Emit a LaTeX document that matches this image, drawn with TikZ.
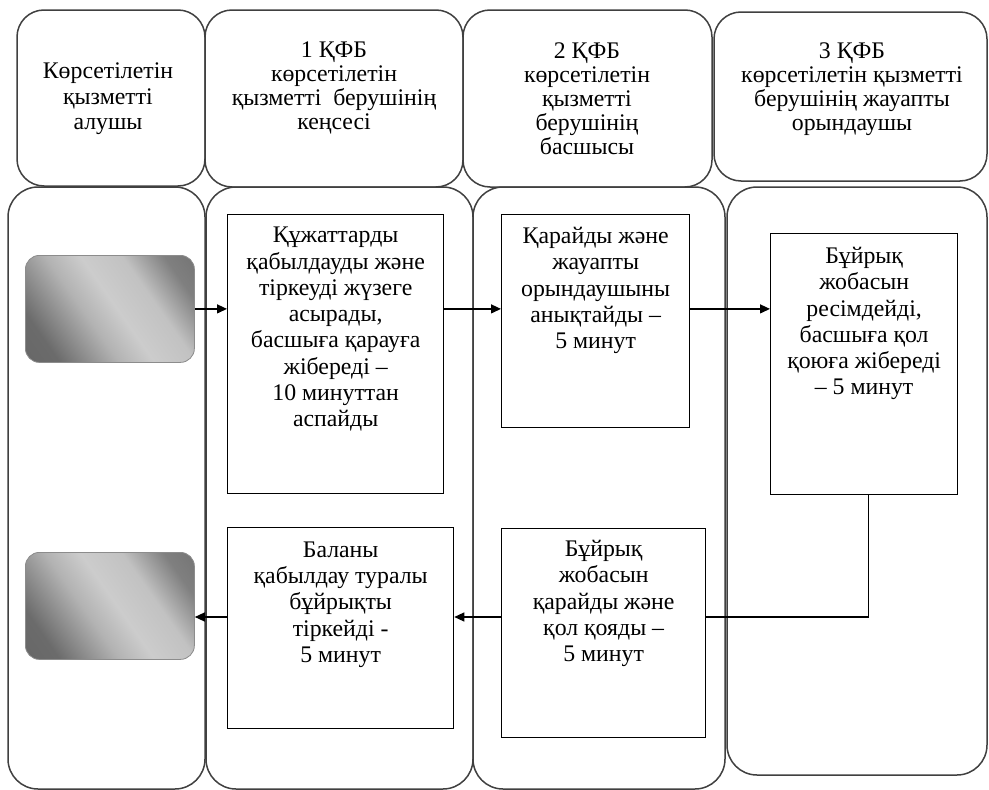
\documentclass[tikz,border=0pt]{standalone}
\usepackage{fontspec}
\setmainfont{Liberation Serif}
\usetikzlibrary{arrows.meta}
% grey sheen for the recipient boxes: dark ends, broad light band in the middle
\pgfdeclarehorizontalshading{actorsheen}{100bp}{color(0bp)=(black!62); color(25bp)=(black!58); color(42bp)=(black!30); color(52bp)=(black!20); color(64bp)=(black!24); color(76bp)=(black!50); color(100bp)=(black!62)}
\begin{document}
\begin{tikzpicture}[x=1pt,y=-1pt,
  lane/.style={draw=black!75, line width=1.5pt, rounded corners=30pt},
  head/.style={draw=black!75, line width=1.5pt, rounded corners=27pt},
  stepbox/.style={draw=black, line width=1.3pt, inner sep=0pt, anchor=north west},
  actor/.style={draw=black!45, line width=0.8pt, rounded corners=14pt, inner sep=0pt,
    anchor=north west, shading=actorsheen, shading angle=35},
  txt/.style={align=center, inner sep=0pt, anchor=north, font=\fontsize{23.8}{26.3}\selectfont},
  htxt/.style={align=center, inner sep=0pt, anchor=north, font=\fontsize{23.8}{24}\selectfont},
  arr/.style={line width=1.3pt, -{Triangle[length=10pt,width=9pt]}},
  link/.style={line width=1.3pt}]
\useasboundingbox (0,0) rectangle (989,790);
\fill[white] (0,0) rectangle (989,790);

% column headers
\draw[head] (17,10) rectangle (205,186);
\draw[head] (205,10) rectangle (463,187);
\draw[head] (463,10) rectangle (712,187);
\draw[head] (714,12) rectangle (987,181);

\node[htxt, font=\fontsize{23.8}{25.5}\selectfont] (h1) at (108,63) {Көрсетілетін\\қызметті\\алушы};
\node[htxt] (h2) at (334,42) {1 ҚФБ\\көрсетілетін\\қызметті~~берушінің\\кеңсесі};
\node[htxt] (h3) at (587,43) {2 ҚФБ\\көрсетілетін\\қызметті\\берушінің\\басшысы};
\node[htxt] (h4) at (852,43) {3 ҚФБ\\көрсетілетін қызметті\\берушінің жауапты\\орындаушы};

% swimlanes
\draw[lane] (8,187) rectangle (205,789);
\draw[lane] (206,187) rectangle (473,789);
\draw[lane] (473,187) rectangle (725,789);
\draw[lane] (727,187) rectangle (987,775);

% service recipient
\node[actor, minimum width=169pt, minimum height=107pt] (G1) at (25,255) {};
\node[actor, minimum width=169pt, minimum height=107pt] (G2) at (25,552) {};

% process steps
\node[stepbox, minimum width=216pt, minimum height=279pt] (A) at (227,214) {};
\node[stepbox, minimum width=188pt, minimum height=213pt] (B) at (501,214) {};
\node[stepbox, minimum width=187pt, minimum height=261pt] (C) at (770,233) {};
\node[stepbox, minimum width=204pt, minimum height=209pt] (D) at (501,528) {};
\node[stepbox, minimum width=226pt, minimum height=201pt] (E) at (227,527) {};

\node[txt] (tA) at ([yshift=-13pt]A.north) {Құжаттарды\\қабылдауды және\\тіркеуді жүзеге\\асырады,\\басшыға қарауға\\жібереді –\\10 минуттан\\аспайды};
\node[txt] (tB) at ([yshift=-13pt]B.north) {Қарайды және\\жауапты\\орындаушыны\\анықтайды –\\5 минут};
\node[txt] (tC) at ([yshift=-14pt]C.north) {Бұйрық\\жобасын\\ресімдейді,\\басшыға қол\\қоюға жібереді\\– 5 минут};
\node[txt] (tD) at ([yshift=-12pt]D.north) {Бұйрық\\жобасын\\қарайды және\\қол қояды –\\5 минут};
\node[txt] (tE) at ([yshift=-14.5pt]E.north) {Баланы\\қабылдау туралы\\бұйрықты\\тіркейді -\\5 минут};

% connectors
\coordinate (r2) at (0,617);
\draw[arr] (G1.east) -- (G1.east -| A.west);
\draw[arr] (A.east |- G1.east) -- (B.west |- G1.east);
\draw[arr] (B.east |- G1.east) -- (C.west |- G1.east);
\draw[link] ([xshift=4.5pt]C.south) -- ([xshift=4.5pt]C.south |- r2) -- (D.east |- r2);
\draw[arr] (D.west |- r2) -- (E.east |- r2);
\draw[arr] (E.west |- r2) -- (G2.east |- r2);
\end{tikzpicture}
\end{document}
